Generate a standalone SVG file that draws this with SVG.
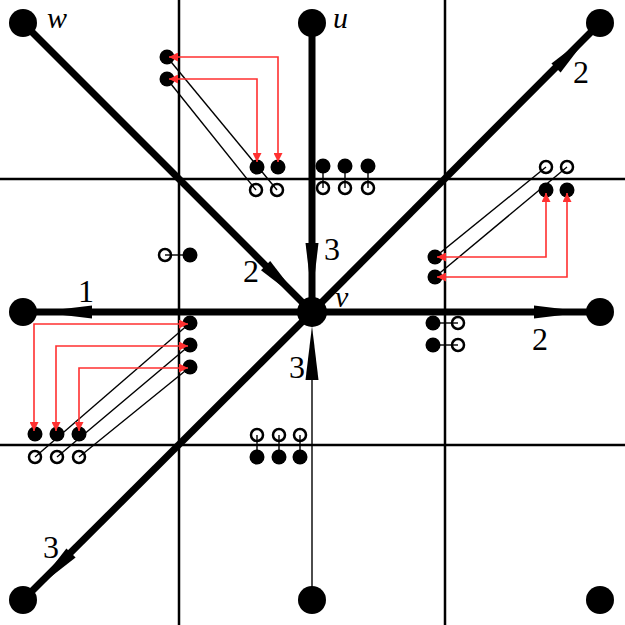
<svg xmlns="http://www.w3.org/2000/svg" width="625" height="625" viewBox="0 0 625 625">
<style>
.grid{stroke:#000;stroke-width:2.5;fill:none}
.edge{stroke:#000;stroke-width:7;fill:none}
.thin{stroke:#000;stroke-width:1.4;fill:none}
.wedge{fill:#000}
.node{fill:#000}
.dot{fill:#000}
.loop{fill:none;stroke:#000;stroke-width:2.5}
.red{stroke:#ff3030;stroke-width:1.6;fill:none;marker-start:url(#ra);marker-end:url(#ra)}
.lbl{font-family:"Liberation Serif","Times New Roman",serif;font-size:32px;fill:#000}
.it{font-style:italic;font-size:30px}
</style>
<defs>
<marker id="ra" viewBox="0 0 10 10" refX="10" refY="5" markerWidth="9" markerHeight="9" markerUnits="userSpaceOnUse" orient="auto-start-reverse">
<path d="M0,0 L10,5 L0,10 z" fill="#ff3030"/>
</marker>
</defs>
<rect width="625" height="625" fill="#fff"/>
<g id="grid">
<line class="grid" x1="179" y1="0" x2="179" y2="625"/>
<line class="grid" x1="445" y1="0" x2="445" y2="625"/>
<line class="grid" x1="0" y1="179" x2="625" y2="179"/>
<line class="grid" x1="0" y1="445" x2="625" y2="445"/>
</g>
<g id="connectors">
<line class="edge" x1="23" y1="23" x2="312" y2="312"/>
<line class="edge" x1="312" y1="23" x2="312" y2="312"/>
<line class="edge" x1="312" y1="312" x2="600" y2="23"/>
<line class="edge" x1="23" y1="312" x2="600" y2="312"/>
<line class="edge" x1="312" y1="312" x2="23" y2="600"/>
<line class="thin" x1="312" y1="600" x2="312" y2="370"/>
<polygon class="wedge" points="261,270.2 301,301 270.2,261"/>
<polygon class="wedge" points="305.5,243 318.5,243 312,298"/>
<polygon class="wedge" points="560.6,72.6 590,34 551.4,63.4"/>
<polygon class="wedge" points="92,305.5 92,318.5 38,312"/>
<polygon class="wedge" points="534,305.5 534,318.5 587,312"/>
<polygon class="wedge" points="66.4,548.4 75.6,557.6 34,590"/>
<polygon class="wedge" points="305.5,380 318.5,380 312,326"/>
<line class="thin" x1="167" y1="57" x2="277" y2="190"/>
<line class="thin" x1="167" y1="79" x2="256" y2="190"/>
<line class="thin" x1="323" y1="166" x2="323" y2="188"/>
<line class="thin" x1="345" y1="166" x2="345" y2="188"/>
<line class="thin" x1="368" y1="166" x2="368" y2="188"/>
<line class="thin" x1="435" y1="257" x2="546" y2="167"/>
<line class="thin" x1="435" y1="277" x2="567" y2="167"/>
<line class="thin" x1="190" y1="255" x2="165" y2="255"/>
<line class="thin" x1="433" y1="323" x2="458" y2="323"/>
<line class="thin" x1="433" y1="345" x2="458" y2="345"/>
<line class="thin" x1="190" y1="323" x2="35" y2="457"/>
<line class="thin" x1="190" y1="345" x2="57" y2="457"/>
<line class="thin" x1="190" y1="367" x2="79" y2="457"/>
<line class="thin" x1="257" y1="457" x2="257" y2="435"/>
<line class="thin" x1="279" y1="457" x2="279" y2="435"/>
<line class="thin" x1="300" y1="457" x2="300" y2="435"/>
</g>
<g id="nodes">
<g id="n-w"><circle class="node" cx="23" cy="23" r="14"/></g>
<g id="n-u"><circle class="node" cx="312" cy="23" r="14"/></g>
<g id="n-tr"><circle class="node" cx="600" cy="23" r="14"/></g>
<g id="n-l"><circle class="node" cx="23" cy="312" r="14"/></g>
<g id="n-v"><circle class="node" cx="312" cy="312" r="15"/></g>
<g id="n-r"><circle class="node" cx="600" cy="312" r="14"/></g>
<g id="n-bl"><circle class="node" cx="23" cy="600" r="14"/></g>
<g id="n-b"><circle class="node" cx="312" cy="600" r="14"/></g>
<g id="n-br"><circle class="node" cx="600" cy="600" r="14"/></g>
</g>
<g id="small-dots">
<circle class="dot" cx="167" cy="57" r="7.5"/>
<circle class="dot" cx="167" cy="79" r="7.5"/>
<circle class="dot" cx="257" cy="167" r="7.5"/>
<circle class="dot" cx="278" cy="167" r="7.5"/>
<circle class="dot" cx="323" cy="166" r="7.5"/>
<circle class="dot" cx="345" cy="166" r="7.5"/>
<circle class="dot" cx="368" cy="166" r="7.5"/>
<circle class="dot" cx="546" cy="190" r="7.5"/>
<circle class="dot" cx="567" cy="190" r="7.5"/>
<circle class="dot" cx="435" cy="257" r="7.5"/>
<circle class="dot" cx="435" cy="277" r="7.5"/>
<circle class="dot" cx="190" cy="255" r="7.5"/>
<circle class="dot" cx="433" cy="323" r="7.5"/>
<circle class="dot" cx="433" cy="345" r="7.5"/>
<circle class="dot" cx="190" cy="323" r="7.5"/>
<circle class="dot" cx="190" cy="345" r="7.5"/>
<circle class="dot" cx="190" cy="367" r="7.5"/>
<circle class="dot" cx="35" cy="434" r="7.5"/>
<circle class="dot" cx="57" cy="434" r="7.5"/>
<circle class="dot" cx="79" cy="434" r="7.5"/>
<circle class="dot" cx="257" cy="457" r="7.5"/>
<circle class="dot" cx="279" cy="457" r="7.5"/>
<circle class="dot" cx="300" cy="457" r="7.5"/>
</g>
<g id="loops">
<circle class="loop" cx="256" cy="190" r="6"/>
<circle class="loop" cx="277" cy="190" r="6"/>
<circle class="loop" cx="323" cy="188" r="6"/>
<circle class="loop" cx="345" cy="188" r="6"/>
<circle class="loop" cx="368" cy="188" r="6"/>
<circle class="loop" cx="546" cy="167" r="6"/>
<circle class="loop" cx="567" cy="167" r="6"/>
<circle class="loop" cx="165" cy="255" r="6"/>
<circle class="loop" cx="458" cy="323" r="6"/>
<circle class="loop" cx="458" cy="345" r="6"/>
<circle class="loop" cx="35" cy="457" r="6"/>
<circle class="loop" cx="57" cy="457" r="6"/>
<circle class="loop" cx="79" cy="457" r="6"/>
<circle class="loop" cx="257" cy="435" r="6"/>
<circle class="loop" cx="279" cy="435" r="6"/>
<circle class="loop" cx="300" cy="435" r="6"/>
</g>
<g id="red-arrows">
<path class="red" d="M169,57 H278 V162"/>
<path class="red" d="M169,79 H257 V162"/>
<path class="red" d="M437,257 H546 V193"/>
<path class="red" d="M437,277 H567 V193"/>
<path class="red" d="M188,324 H34 V431"/>
<path class="red" d="M188,346 H56 V431"/>
<path class="red" d="M188,368 H79 V431"/>
</g>
<g id="labels">
<text class="lbl it" x="47" y="28">w</text>
<text class="lbl it" x="333" y="28">u</text>
<text class="lbl it" x="335" y="307">v</text>
<text class="lbl" x="573" y="83">2</text>
<text class="lbl" x="324" y="260">3</text>
<text class="lbl" x="243" y="282">2</text>
<text class="lbl" x="289" y="378">3</text>
<text class="lbl" x="78" y="302">1</text>
<text class="lbl" x="532" y="350">2</text>
<text class="lbl" x="43" y="558">3</text>
</g>
</svg>
